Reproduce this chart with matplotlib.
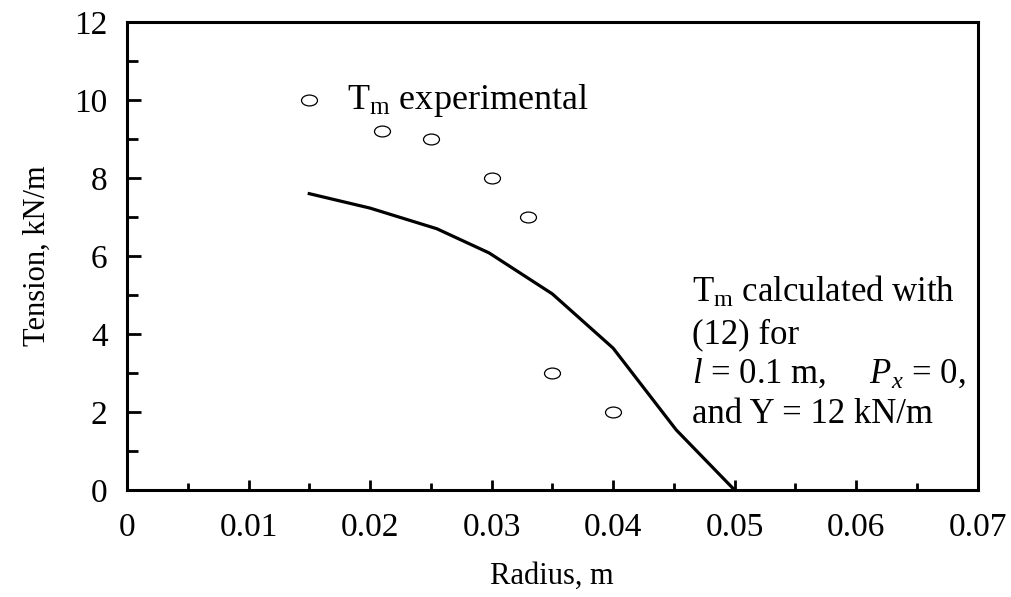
import numpy as np
import matplotlib
matplotlib.use('Agg')
import matplotlib.pyplot as plt
from matplotlib.path import Path
from matplotlib.ticker import MultipleLocator

plt.rcParams['font.family'] = ['Liberation Serif', 'DejaVu Serif']
plt.rcParams['mathtext.fontset'] = 'custom'
plt.rcParams['mathtext.rm'] = 'Liberation Serif'
plt.rcParams['mathtext.it'] = 'Liberation Serif:italic'

# experimental points
r_exp = [0.015, 0.021, 0.025, 0.030, 0.033, 0.035, 0.040]
t_exp = [10.0, 9.2, 9.0, 8.0, 7.0, 3.0, 2.0]

# calculated curve
r_calc = [0.015, 0.020, 0.0255, 0.0298, 0.035, 0.040, 0.0452, 0.050]
t_calc = [7.6, 7.23, 6.7, 6.08, 5.03, 3.64, 1.54, 0.0]

x_ticklabels = ['0', '0.01', '0.02', '0.03', '0.04', '0.05', '0.06', '0.07']

# hollow ellipse marker (wider than tall)
circ = Path.unit_circle()
ellipse = Path(circ.vertices * np.array([1.0, 0.68]), circ.codes)

fig = plt.figure(figsize=(10.11, 5.97), dpi=100)
ax = fig.add_axes([0.1256, 0.1792, 0.8414, 0.7838])

ax.plot(r_calc, t_calc, color='black', lw=2.3)
ax.plot(r_exp, t_exp, ls='none', marker=ellipse, ms=11.5, mfc='white',
        mec='black', mew=0.9)

ax.set_xlim(0, 0.07)
ax.set_ylim(0, 12)
ax.set_xticks(np.arange(0, 0.0701, 0.01))
ax.set_xticklabels(x_ticklabels)
ax.xaxis.set_minor_locator(MultipleLocator(0.005))
ax.yaxis.set_major_locator(MultipleLocator(2))
ax.yaxis.set_minor_locator(MultipleLocator(1))

ax.tick_params(axis='both', which='both', direction='in', labelsize=24,
               top=False, right=False)
ax.tick_params(axis='y', which='major', length=10, width=2, pad=14)
ax.tick_params(axis='y', which='minor', length=8, width=2)
ax.tick_params(axis='x', which='major', length=7, width=2, pad=16)
ax.tick_params(axis='x', which='minor', length=5, width=2)
for s in ax.spines.values():
    s.set_linewidth(2.2)

ax.set_xlabel('Radius, m', fontsize=22, labelpad=14)
ax.set_ylabel('Tension, kN/m', fontsize=22, labelpad=16)

ax.text(0.0181, 10.0, r'T$_{\mathrm{m}}$ experimental', fontsize=26, va='center')
ax.text(0.0465, 4.82, r'T$_{\mathrm{m}}$ calculated with', fontsize=25, va='baseline')
ax.text(0.0465, 3.77, '(12) for', fontsize=25, va='baseline')
ax.text(0.0465, 2.74, r'$l$ = 0.1 m,     $P_x$ = 0,', fontsize=25, va='baseline')
ax.text(0.0465, 1.72, 'and Y = 12 kN/m', fontsize=25, va='baseline')

fig.savefig('out.png', dpi=100)
